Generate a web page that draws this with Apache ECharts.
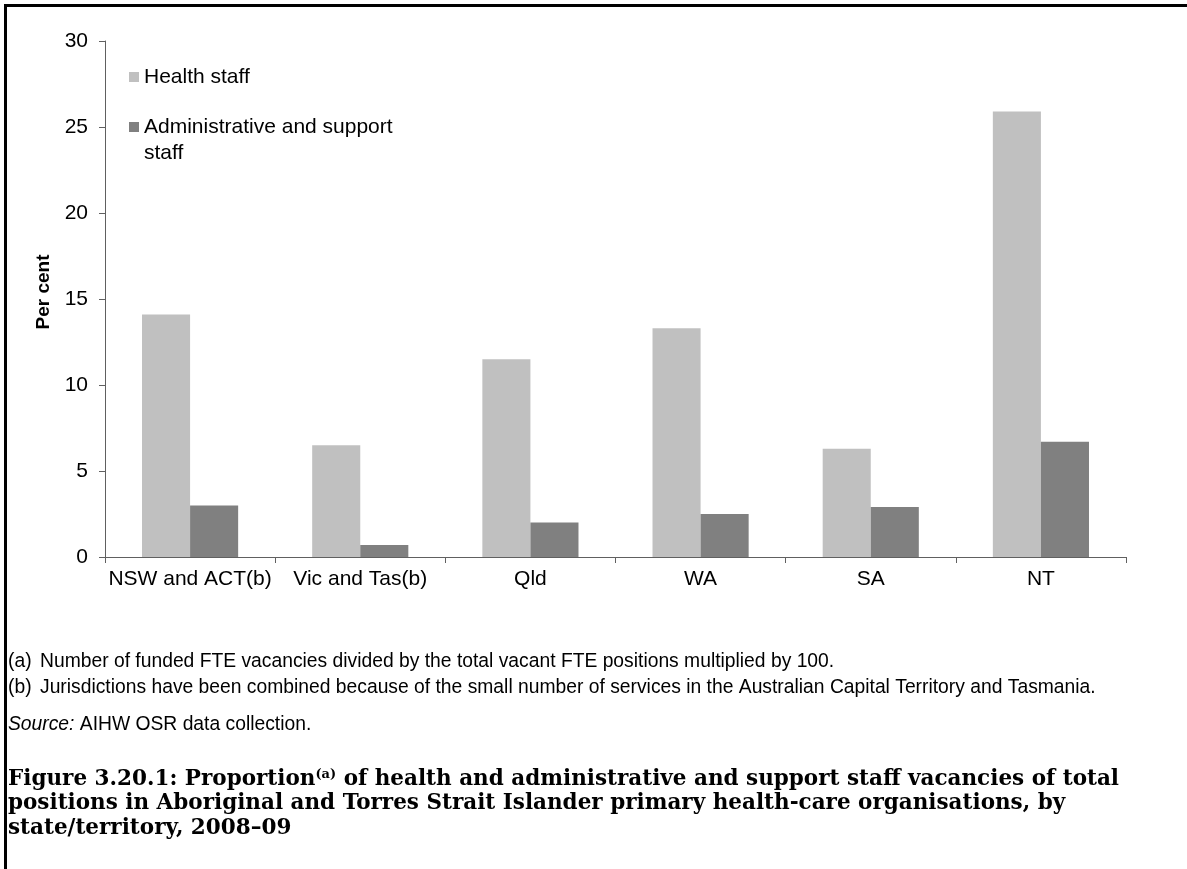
<!DOCTYPE html>
<html>
<head>
<meta charset="utf-8">
<script src="https://cdn.jsdelivr.net/npm/echarts@6/dist/echarts.min.js"></script>
<style>
  html, body { margin: 0; padding: 0; background: #ffffff; }
  #chart { width: 1187px; height: 869px; }
</style>
</head>
<body>
<div id="chart"></div>
<script>
// Jurisdictions shown along the category axis
const categories = ['NSW and ACT(b)', 'Vic and Tas(b)', 'Qld', 'WA', 'SA', 'NT'];

// Vacancies as a percentage of total positions, 2008–09
const healthStaff = [14.1, 6.5, 11.5, 13.3, 6.3, 25.9];
const adminStaff = [3.0, 0.7, 2.0, 2.5, 2.9, 6.7];

// Value axis range and step
const yMin = 0;
const yMax = 30;
const yStep = 5;

const seriesNames = ['Health staff', 'Administrative and support staff'];

const footnotes = [
  ['(a)', 'Number of funded FTE vacancies divided by the total vacant FTE positions multiplied by 100.'],
  ['(b)', 'Jurisdictions have been combined because of the small number of services in the Australian Capital Territory and Tasmania.']
];
const sourceLabel = 'Source:';
const sourceText = ' AIHW OSR data collection.';

const titleLines = [
  ['Figure 3.20.1: Proportion', '(a)', ' of health and administrative and support staff vacancies of total'],
  ['positions in Aboriginal and Torres Strait Islander primary health-care organisations, by'],
  ['state/territory, 2008–09']
];

const SANS = 'Liberation Sans, Arial, sans-serif';
const SERIF = 'DejaVu Serif, serif';
const NOTE_FONT = '19.3px ' + SANS;
const AXIS_COLOR = '#606060';

const chart = echarts.init(document.getElementById('chart'), null, { renderer: 'canvas' });

const graphics = [
  // frame: top and left rules
  { type: 'rect', shape: { x: 4, y: 4, width: 1183, height: 3 }, style: { fill: '#000' } },
  { type: 'rect', shape: { x: 4, y: 4, width: 3, height: 865 }, style: { fill: '#000' } }
];

footnotes.forEach(function (fn, i) {
  const y = 662 + i * 26;
  graphics.push({ type: 'text', x: 8, y: y, style: { text: fn[0], font: NOTE_FONT, fill: '#000', verticalAlign: 'middle' } });
  graphics.push({ type: 'text', x: 40, y: y, style: { text: fn[1], font: NOTE_FONT, fill: '#000', verticalAlign: 'middle' } });
});

graphics.push({
  type: 'text', x: 8, y: 725,
  style: {
    text: '{i|' + sourceLabel + '}{n|' + sourceText + '}',
    verticalAlign: 'middle',
    rich: {
      i: { font: 'italic ' + NOTE_FONT, fill: '#000' },
      n: { font: NOTE_FONT, fill: '#000' }
    }
  }
});

titleLines.forEach(function (parts, i) {
  const txt = parts.length === 3
    ? '{t|' + parts[0] + '}{s|' + parts[1] + '}{t|' + parts[2] + '}'
    : '{t|' + parts[0] + '}';
  graphics.push({
    type: 'text', x: 8, y: 768 + i * 24.5,
    style: {
      text: txt,
      verticalAlign: 'top',
      rich: {
        t: { font: 'bold 21.5px ' + SERIF, fill: '#000', lineHeight: 25, verticalAlign: 'top' },
        s: { font: 'bold 13px ' + SERIF, fill: '#000', lineHeight: 14, verticalAlign: 'top' }
      }
    }
  });
});

const option = {
  backgroundColor: '#ffffff',
  animation: false,
  grid: { left: 105, right: 61, top: 41, height: 516, containLabel: false },
  legend: [
    {
      data: [seriesNames[0]],
      left: 129, top: 64, padding: 0,
      orient: 'vertical',
      itemWidth: 10, itemHeight: 10, itemGap: 0,
      icon: 'rect',
      textStyle: { fontFamily: SANS, fontSize: 21, color: '#000', lineHeight: 26 },
      selectedMode: false
    },
    {
      data: [seriesNames[1]],
      left: 129, top: 88, padding: 0,
      orient: 'vertical',
      itemWidth: 10, itemHeight: 10, itemGap: 0,
      icon: 'rect',
      formatter: function () { return ' \nAdministrative and support\nstaff'; },
      textStyle: { fontFamily: SANS, fontSize: 21, color: '#000', lineHeight: 26 },
      selectedMode: false
    }
  ],
  xAxis: {
    type: 'category',
    data: categories,
    axisLine: { show: true, lineStyle: { color: AXIS_COLOR, width: 1 } },
    axisTick: { show: true, length: 6, lineStyle: { color: AXIS_COLOR } },
    axisLabel: { interval: 0, fontFamily: SANS, fontSize: 21, color: '#000', margin: 12 },
    splitLine: { show: false }
  },
  yAxis: {
    type: 'value',
    min: yMin, max: yMax, interval: yStep,
    name: 'Per cent',
    nameLocation: 'middle',
    nameGap: 52,
    nameTextStyle: { fontFamily: SANS, fontSize: 19, fontWeight: 'bold', color: '#000', padding: [0, 0, 0, 14] },
    axisLine: { show: true, lineStyle: { color: AXIS_COLOR, width: 1 } },
    axisTick: { show: true, length: 6, lineStyle: { color: AXIS_COLOR } },
    axisLabel: { fontFamily: SANS, fontSize: 21, color: '#000', margin: 17 },
    splitLine: { show: false }
  },
  series: [
    {
      name: seriesNames[0], type: 'bar', data: healthStaff,
      itemStyle: { color: '#c0c0c0' },
      barGap: '0%', barCategoryGap: '43.5%'
    },
    {
      name: seriesNames[1], type: 'bar', data: adminStaff,
      itemStyle: { color: '#808080' },
      barGap: '0%', barCategoryGap: '43.5%'
    }
  ],
  graphic: graphics
};

chart.setOption(option);
</script>
</body>
</html>
